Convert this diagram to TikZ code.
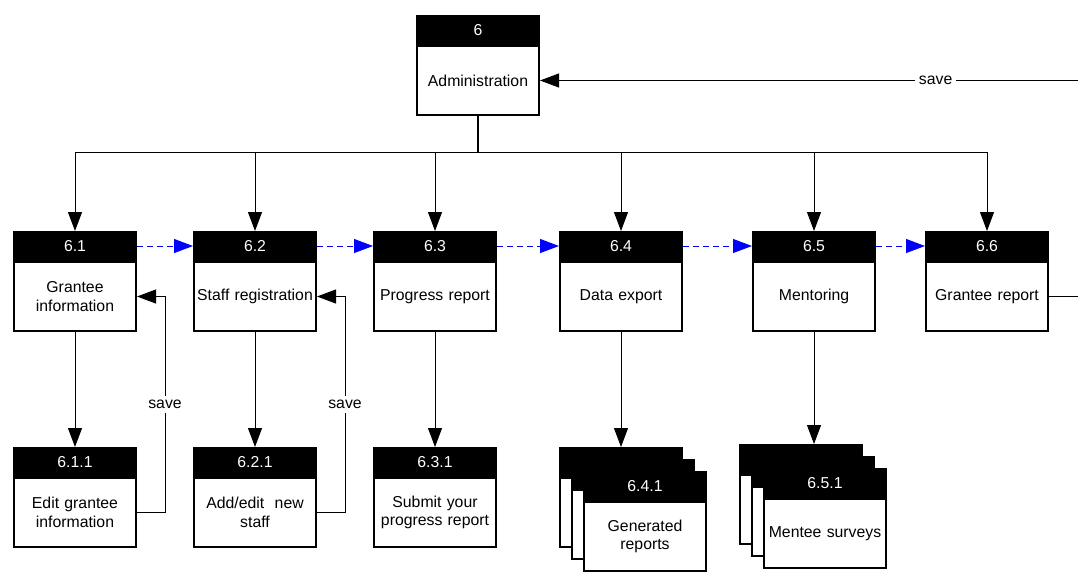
\documentclass[tikz,border=0pt]{standalone}
\usepackage{fontspec}
\setmainfont{Liberation Sans}
\usetikzlibrary{arrows.meta,positioning}

\tikzset{
  x=1pt, y=-1pt,
  hdr/.style={draw=black, fill=black, line width=2pt, text=white,
    minimum width=122pt, minimum height=28pt, inner sep=0pt,
    font=\fontsize{15.8}{18}\selectfont},
  bodybox/.style={draw=black, fill=white, line width=2pt,
    minimum width=122pt, minimum height=69pt, inner sep=1pt,
    text width=120pt, align=center,
    font=\fontsize{15.8}{18.5}\selectfont},
  link/.style={draw=black, line width=1pt,
    -{Triangle[length=19pt,width=14pt]}},
  flow/.style={draw=blue, line width=1pt, dash pattern=on 6pt off 4pt,
    -{Triangle[length=19pt,width=14pt,fill=blue]}},
  plain/.style={draw=black, line width=1pt},
  lbl/.style={fill=white, inner sep=4pt, font=\fontsize{15.8}{18}\selectfont},
}

% process box: name, left x, top y, number, caption
\newcommand\procbox[5]{%
  \node[hdr, anchor=north west] (#1h) at (#2,#3) {#4};
  \node[bodybox, anchor=north] (#1) at (#1h.south) {#5};
}

\begin{document}
\begin{tikzpicture}
\useasboundingbox (0,0) rectangle (1078,571);

% top level
\procbox{adm}{416}{15}{6}{Administration}

% second level
\procbox{b61}{13}{231}{6.1}{Grantee\\information}
\procbox{b62}{193}{231}{6.2}{Staff registration}
\procbox{b63}{373}{231}{6.3}{Progress report}
\procbox{b64}{559}{231}{6.4}{Data export}
\procbox{b65}{752}{231}{6.5}{Mentoring}
\procbox{b66}{925}{231}{6.6}{Grantee report}

% third level
\procbox{b611}{13}{447}{6.1.1}{Edit grantee\\information}
\procbox{b621}{193}{447}{6.2.1}{Add/edit\ \ new\\staff}
\procbox{b631}{373}{447}{6.3.1}{Submit your\\progress report}

% stacked boxes (multiple documents)
\procbox{b641c}{559}{447}{}{}
\procbox{b641b}{571}{459}{}{}
\procbox{b641}{583}{471}{6.4.1}{Generated\\reports}
\procbox{b651c}{739}{444}{}{}
\procbox{b651b}{751}{456}{}{}
\procbox{b651}{763}{468}{6.5.1}{Mentee surveys}

% tree from Administration to the second level
\draw[line width=2pt] (adm.south) -- ++(0,36) coordinate (bus);
\foreach \c in {b61,b62,b63,b64,b65,b66}
  \draw[link] (bus) -| (\c h.north);

% sequence between the second-level boxes
\draw[flow] (b61h.east) -- (b62h.west);
\draw[flow] (b62h.east) -- (b63h.west);
\draw[flow] (b63h.east) -- (b64h.west);
\draw[flow] (b64h.east) -- (b65h.west);
\draw[flow] (b65h.east) -- (b66h.west);

% down to the third level
\draw[link] (b61.south) -- (b611h.north);
\draw[link] (b62.south) -- (b621h.north);
\draw[link] (b63.south) -- (b631h.north);
\draw[link] (b64.south) -- (b64.south |- b641ch.north);
\draw[link] (b65.south) -- (b65.south |- b651ch.north);

% save loops
\draw[link] (b611.east) -- ++(28,0) |- node[lbl, pos=0.25] {save} (b61.east);
\draw[link] (b621.east) -- ++(28,0) |- node[lbl, pos=0.25] {save} (b62.east);

% save back to Administration
\coordinate (rt) at (1082,0);
\draw[link] (b66.east) -| (rt |- adm.east) -- node[lbl, pos=0.27] {save} (adm.east);
\end{tikzpicture}
\end{document}
